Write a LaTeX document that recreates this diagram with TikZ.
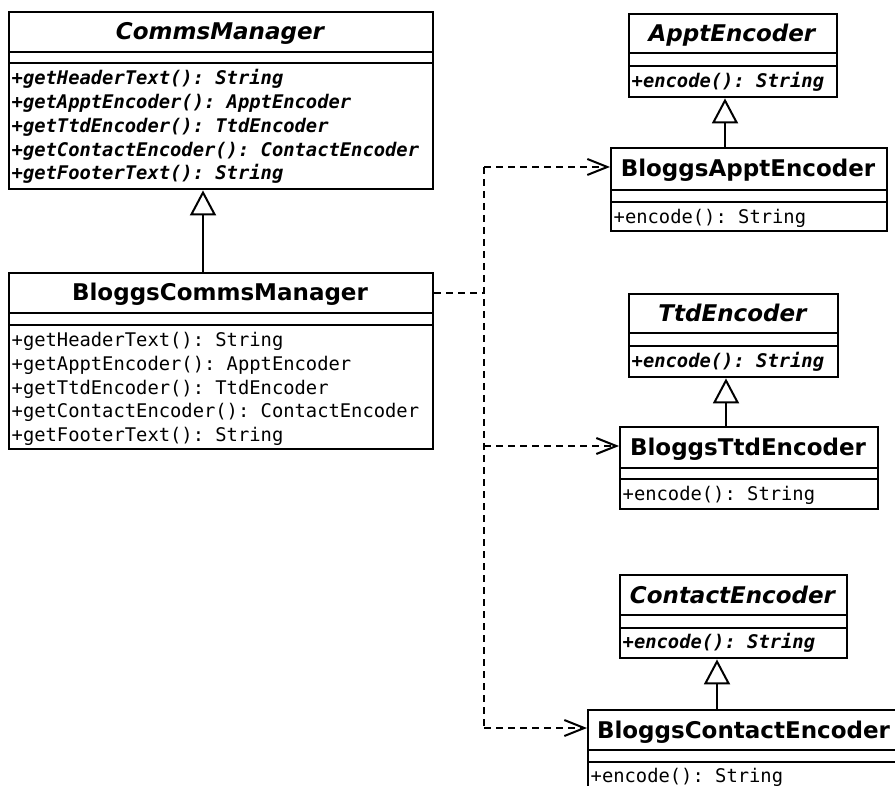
\documentclass[tikz,border=0pt]{standalone}
\usepackage{fontspec}
\setmainfont{DejaVu Sans}
\setmonofont{DejaVu Sans Mono}
\usetikzlibrary{arrows.meta,calc}
\tikzset{
  box/.style={draw, line width=2.4pt, inner sep=0pt},
  sep/.style={line width=2.4pt},
  ttl/.style={inner sep=0pt, anchor=base, font=\fontsize{23}{27}\selectfont\bfseries},
  attl/.style={inner sep=0pt, anchor=base, font=\fontsize{23}{27}\selectfont\bfseries\itshape},
  mth/.style={inner sep=0pt, anchor=base west, font=\fontsize{18.8}{22}\selectfont\ttfamily},
  amth/.style={inner sep=0pt, anchor=base west, font=\fontsize{18.8}{22}\selectfont\ttfamily\bfseries\itshape},
  gen/.style={line width=2pt, -{Triangle[open, fill=white, length=25pt, width=26pt]}},
  dep/.style={line width=2pt, dash pattern=on 7pt off 5pt},
  deparr/.style={dep, -{Straight Barb[length=20pt, width=16pt]}},
}
% #1 name, #2 left, #3 top, #4 right, #5 bottom, #6 title line, #7 attribute line
\newcommand\umlbox[7]{%
  \node[box, anchor=north west, minimum width={(#4-#2)*1pt}, minimum height={(#5-#3)*1pt}] (#1) at (#2,#3) {};
  \draw[sep] (#1.west |- 0,#6) -- (#1.east |- 0,#6);
  \draw[sep] (#1.west |- 0,#7) -- (#1.east |- 0,#7);
}
\begin{document}
\begin{tikzpicture}[x=1pt, y=-1pt]
\clip (0,0) rectangle (895,786);

% ---------- CommsManager ----------
\umlbox{cm}{8}{11}{432}{188}{52}{63}
\node[attl] (cm-t) at (220,40) {CommsManager};
\node[amth] (cm-m1) at (11.5,85) {+getHeaderText(): String};
\node[amth] (cm-m2) at (11.5,108.7) {+getApptEncoder(): ApptEncoder};
\node[amth] (cm-m3) at (11.5,132.4) {+getTtdEncoder(): TtdEncoder};
\node[amth] (cm-m4) at (11.5,156.1) {+getContactEncoder(): ContactEncoder};
\node[amth] (cm-m5) at (11.5,179.8) {+getFooterText(): String};

% ---------- BloggsCommsManager ----------
\umlbox{bcm}{8}{272}{432}{448}{313}{325}
\node[ttl] (bcm-t) at (220,301) {BloggsCommsManager};
\node[mth] (bcm-m1) at (11.5,346.7) {+getHeaderText(): String};
\node[mth] (bcm-m2) at (11.5,370.4) {+getApptEncoder(): ApptEncoder};
\node[mth] (bcm-m3) at (11.5,394.1) {+getTtdEncoder(): TtdEncoder};
\node[mth] (bcm-m4) at (11.5,417.8) {+getContactEncoder(): ContactEncoder};
\node[mth] (bcm-m5) at (11.5,441.5) {+getFooterText(): String};

% ---------- ApptEncoder ----------
\umlbox{ae}{628}{13}{836}{96}{53}{66}
\node[attl] (ae-t) at (732,41.5) {ApptEncoder};
\node[amth] (ae-m1) at (631.5,87.5) {+encode(): String};

\umlbox{bae}{610}{147}{886}{230}{190}{202}
\node[ttl] (bae-t) at (748,177) {BloggsApptEncoder};
\node[mth] (bae-m1) at (613.5,223.5) {+encode(): String};

% ---------- TtdEncoder ----------
\umlbox{te}{628}{293}{837}{376}{333}{346}
\node[attl] (te-t) at (732.5,321.4) {TtdEncoder};
\node[amth] (te-m1) at (631.5,367.2) {+encode(): String};

\umlbox{bte}{619}{426}{877}{508}{468}{479}
\node[ttl] (bte-t) at (748,455.4) {BloggsTtdEncoder};
\node[mth] (bte-m1) at (622.5,500.3) {+encode(): String};

% ---------- ContactEncoder ----------
\umlbox{ce}{619}{574}{846}{657}{615}{628}
\node[attl] (ce-t) at (732.5,603) {ContactEncoder};
\node[amth] (ce-m1) at (622.5,648.5) {+encode(): String};

\umlbox{bce}{587}{709}{900}{800}{750}{762}
\node[ttl] (bce-t) at (743.5,738) {BloggsContactEncoder};
\node[mth] (bce-m1) at (590.5,782.5) {+encode(): String};

% ---------- generalisations ----------
\coordinate (g1) at (203,0);
\coordinate (g2) at (725,0);
\coordinate (g3) at (726,0);
\coordinate (g4) at (717,0);
\draw[gen] (bcm.north -| g1) -- (cm.south -| g1);
\draw[gen] (bae.north -| g2) -- (ae.south -| g2);
\draw[gen] (bte.north -| g3) -- (te.south -| g3);
\draw[gen] (bce.north -| g4) -- (ce.south -| g4);

% ---------- dependencies ----------
\coordinate (d0) at (484,293);
\coordinate (dA) at (484,167);
\coordinate (dT) at (484,446);
\coordinate (dC) at (484,728);
\draw[dep] (bcm.east |- d0) -- (d0);
\draw[dep] (dA) -- (dC);
\draw[deparr] (dA) -- (bae.west |- dA);
\draw[deparr] (dT) -- (bte.west |- dT);
\draw[deparr] (dC) -- (bce.west |- dC);
\end{tikzpicture}
\end{document}
